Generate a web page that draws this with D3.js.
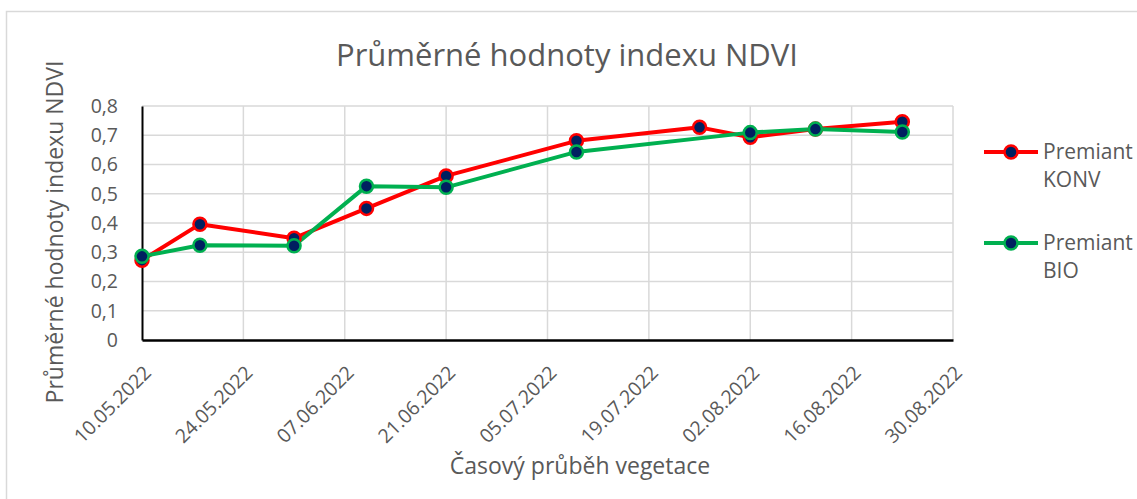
<!DOCTYPE html>
<html>
<head>
<meta charset="utf-8">
<script src="https://cdn.jsdelivr.net/npm/d3@7"></script>
<style>
  body { margin: 0; background: #fff; }
  svg { display: block; font-family: "Open Sans", sans-serif; }
</style>
</head>
<body>
<div id="app"></div>
<script>
// data
const konvDates = ['10.05.2022', '18.05.2022', '31.05.2022', '10.06.2022', '21.06.2022',
                   '09.07.2022', '26.07.2022', '02.08.2022', '11.08.2022', '23.08.2022'];
const konvValues = [0.273, 0.396, 0.348, 0.450, 0.561, 0.681, 0.727, 0.693, 0.721, 0.746];

const bioDates = ['10.05.2022', '18.05.2022', '31.05.2022', '10.06.2022', '21.06.2022',
                  '09.07.2022', '02.08.2022', '11.08.2022', '23.08.2022'];
const bioValues = [0.286, 0.324, 0.322, 0.526, 0.522, 0.643, 0.709, 0.721, 0.711];

const xTickLabels = ['10.05.2022', '24.05.2022', '07.06.2022', '21.06.2022', '05.07.2022',
                     '19.07.2022', '02.08.2022', '16.08.2022', '30.08.2022'];
const yTicks = [0, 0.1, 0.2, 0.3, 0.4, 0.5, 0.6, 0.7, 0.8];

const seriesNames = [['Premiant', 'KONV'], ['Premiant', 'BIO']];
const seriesColors = ['#ff0000', '#00b050'];

const width = 1137, height = 499;
const plotLeft = 142, plotRight = 953, plotTop = 106, plotBottom = 340;
const textColor = '#595959';
const gridColor = '#d9d9d9';

const parse = d3.utcParse('%d.%m.%Y');

const series = [
  konvDates.map((d, i) => ({ date: parse(d), value: konvValues[i] })),
  bioDates.map((d, i) => ({ date: parse(d), value: bioValues[i] }))
];

const xScale = d3.scaleUtc()
                 .domain([parse(xTickLabels[0]), parse(xTickLabels[xTickLabels.length - 1])])
                 .range([plotLeft, plotRight]);

const yScale = d3.scaleLinear()
                 .domain([0, 0.8])
                 .range([plotBottom, plotTop]);

const svg = d3.select('#app')
  .append('svg')
  .attr('width', width)
  .attr('height', height);

// outer chart border
svg.append('rect')
  .attr('x', 6.5).attr('y', 11.5)
  .attr('width', width + 10).attr('height', height + 10)
  .attr('fill', '#fff')
  .attr('stroke', gridColor)
  .attr('stroke-width', 1.5);

// title
svg.append('text')
  .attr('x', 567).attr('y', 66)
  .attr('text-anchor', 'middle')
  .attr('font-size', 31)
  .attr('fill', textColor)
  .text('Průměrné hodnoty indexu NDVI');

// horizontal grid
svg.append('g')
  .selectAll('line')
  .data(yTicks.slice(1))
  .enter()
  .append('line')
  .attr('x1', plotLeft).attr('x2', plotRight)
  .attr('y1', d => yScale(d)).attr('y2', d => yScale(d))
  .attr('stroke', gridColor)
  .attr('stroke-width', 1.5);

// vertical grid
svg.append('g')
  .selectAll('line')
  .data(xTickLabels.slice(1))
  .enter()
  .append('line')
  .attr('x1', d => xScale(parse(d))).attr('x2', d => xScale(parse(d)))
  .attr('y1', plotTop).attr('y2', plotBottom)
  .attr('stroke', gridColor)
  .attr('stroke-width', 1.5);

// y axis
const yAxis = svg.append('g')
  .attr('transform', `translate(${plotLeft},0)`)
  .call(d3.axisLeft(yScale)
          .tickValues(yTicks)
          .tickSize(0)
          .tickPadding(24)
          .tickFormat(d => d === 0 ? '0' : d3.format('.1f')(d).replace('.', ',')));
yAxis.select('.domain').attr('stroke', '#000').attr('stroke-width', 2);
yAxis.selectAll('text').attr('font-size', 19.5).attr('fill', textColor).attr('font-family', '"Open Sans", sans-serif');

// x axis
const xAxis = svg.append('g')
  .attr('transform', `translate(0,${plotBottom})`)
  .call(d3.axisBottom(xScale)
          .tickValues(xTickLabels.map(parse))
          .tickSize(0)
          .tickFormat(d3.utcFormat('%d.%m.%Y')));
xAxis.select('.domain').attr('stroke', '#000').attr('stroke-width', 2.5);
xAxis.selectAll('text')
  .attr('font-size', 19.5)
  .attr('fill', textColor)
  .attr('font-family', '"Open Sans", sans-serif')
  .attr('text-anchor', 'end')
  .attr('y', 0)
  .attr('dy', 0)
  .attr('transform', 'translate(10,34) rotate(-45)');

// axis titles
svg.append('text')
  .attr('x', 580).attr('y', 474)
  .attr('text-anchor', 'middle')
  .attr('font-size', 23)
  .attr('fill', textColor)
  .text('Časový průběh vegetace');

svg.append('text')
  .attr('transform', 'translate(63,232) rotate(-90)')
  .attr('text-anchor', 'middle')
  .attr('font-size', 23)
  .attr('fill', textColor)
  .text('Průměrné hodnoty indexu NDVI');

// lines and markers
const line = d3.line()
  .x(d => xScale(d.date))
  .y(d => yScale(d.value));

series.forEach((s, i) => {
  svg.append('path')
    .datum(s)
    .attr('d', line)
    .attr('fill', 'none')
    .attr('stroke', seriesColors[i])
    .attr('stroke-width', 4)
    .attr('stroke-linejoin', 'round');
});

series.forEach((s, i) => {
  svg.append('g')
    .selectAll('circle')
    .data(s)
    .enter()
    .append('circle')
    .attr('cx', d => xScale(d.date))
    .attr('cy', d => yScale(d.value))
    .attr('r', 6.5)
    .attr('fill', '#002060')
    .attr('stroke', seriesColors[i])
    .attr('stroke-width', 2.5);
});

// legend
const legend = svg.append('g');
seriesNames.forEach((name, i) => {
  const y = 152 + i * 91;
  legend.append('line')
    .attr('x1', 984).attr('x2', 1038)
    .attr('y1', y).attr('y2', y)
    .attr('stroke', seriesColors[i])
    .attr('stroke-width', 4);
  legend.append('circle')
    .attr('cx', 1011).attr('cy', y)
    .attr('r', 6.5)
    .attr('fill', '#002060')
    .attr('stroke', seriesColors[i])
    .attr('stroke-width', 2.5);
  legend.append('text')
    .attr('x', 1043).attr('y', y + 7)
    .attr('font-size', 21)
    .attr('fill', textColor)
    .text(name[0]);
  legend.append('text')
    .attr('x', 1043).attr('y', y + 35)
    .attr('font-size', 21)
    .attr('fill', textColor)
    .text(name[1]);
});
</script>
</body>
</html>
